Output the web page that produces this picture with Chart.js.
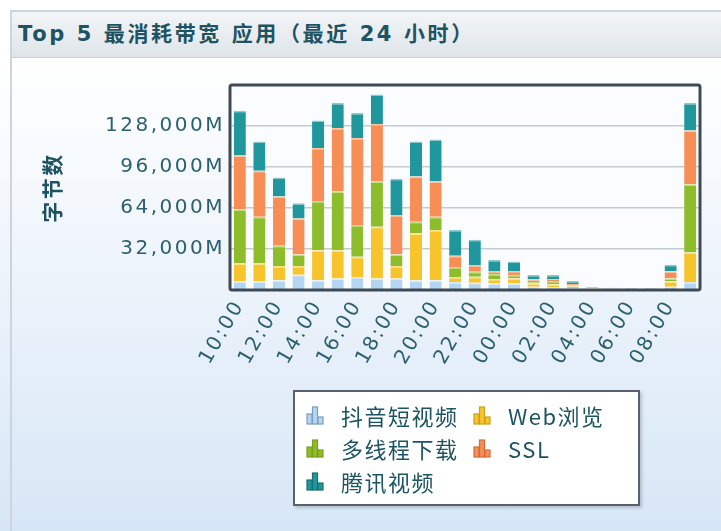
<!DOCTYPE html>
<html>
<head>
<meta charset="utf-8">
<script src="https://cdn.jsdelivr.net/npm/chart.js@4.4.1/dist/chart.umd.min.js"></script>
<style>
  html, body { margin: 0; padding: 0; }
  body {
    width: 721px; height: 531px; overflow: hidden; position: relative;
    background: linear-gradient(to bottom, #ffffff 0px, #ffffff 60px, #d7e6f6 531px);
    font-family: 'DejaVu Sans', 'Noto Sans CJK SC', sans-serif;
  }
  .panel {
    position: absolute; left: 10px; top: 10px; right: 0; bottom: 0;
    border-left: 2px solid #cdd5dc; border-top: 2px solid #cdd5dc;
  }
  .panel-head {
    position: absolute; left: 12px; top: 12px; right: 0; height: 45px;
    background: linear-gradient(to bottom, #f3f5f7, #dfe5ea);
    border-bottom: 1px solid #c9d1d8;
    color: #1e5363; font-weight: bold; font-size: 21px; letter-spacing: 2.6px;
    line-height: 45px; padding-left: 6px;
    font-family: 'DejaVu Sans', 'Noto Sans CJK SC', sans-serif;
  }
  #chartBox { position: absolute; left: 10px; top: 58px; }
  .legend {
    position: absolute; left: 293px; top: 390px; width: 347px; height: 116px;
    background: #fff; border: 2px solid #57626c;
    box-shadow: 2px 2px 3px rgba(0,0,0,0.18);
    display: grid; grid-template-columns: 167px 170px; grid-auto-rows: 33px;
    padding-top: 6px; box-sizing: border-box; padding-left: 11px;
  }
  .legend .item { display: flex; align-items: center; font-size: 22px; color: #1d5464;
    font-family: 'Noto Sans CJK SC', 'DejaVu Sans', sans-serif; letter-spacing: 1.5px; }
  .legend svg { margin-right: 16px; flex: none; }
</style>
</head>
<body>
<div class="panel"></div>
<div class="panel-head">Top 5 最消耗带宽 应用（最近 24 小时）</div>
<div id="chartBox"><canvas id="bwChart" width="711" height="330"></canvas></div>
<div class="legend" id="legend"></div>

<script>
// ── DATA ──
const hours = ['10:00','11:00','12:00','13:00','14:00','15:00','16:00','17:00','18:00','19:00','20:00','21:00',
               '22:00','23:00','00:00','01:00','02:00','03:00','04:00','05:00','06:00','07:00','08:00','09:00'];

const seriesNames = ['抖音短视频', 'Web浏览', '多线程下载', 'SSL', '腾讯视频'];

// bytes, in M
const douyin   = [6800, 6800, 7600, 12000, 7600, 8900, 10200, 8900, 8900, 7600, 7600, 6300,
                  5700, 5200, 5200, 2500, 2000, 1500, 600, 500, 300, 400, 2500, 6300];
const webBrowse = [13800, 13800, 11200, 6800, 23500, 22200, 15700, 40500, 9900, 36500, 39200, 3900,
                  4700, 3400, 4000, 2500, 2500, 1500, 500, 400, 300, 300, 4300, 22900];
const multiDl  = [42400, 36600, 15700, 8900, 38400, 45700, 24800, 35300, 8900, 9200, 10400, 7800,
                  3900, 3900, 2600, 1200, 2500, 800, 300, 200, 100, 100, 2100, 53400];
const ssl      = [42000, 35800, 38500, 28200, 41300, 49700, 67900, 44900, 30900, 35300, 27500, 8700,
                  5300, 2400, 3100, 2000, 1500, 800, 300, 200, 100, 200, 5800, 41800];
const tencent  = [35000, 23000, 14800, 11800, 21500, 19500, 19600, 23000, 28200, 27400, 32700, 20100,
                  19600, 8600, 7300, 3600, 3300, 2400, 600, 500, 300, 400, 5100, 21600];

const yMax = 160000;
const yStep = 32000;

// ── COLOURS ──
const fills   = ['#b5d6f3', '#f8c42c', '#8dbd2a', '#f78e55', '#1f979d'];
const tops    = ['#dcebf9', '#fde08a', '#c4dd86', '#fbc4a3', '#8cc9cc'];
const iconCol = ['#7f9cbf', '#c9a11a', '#7c9e1b', '#d06c3a', '#1b6f73'];

const seriesData = [douyin, webBrowse, multiDl, ssl, tencent];

// plot background + dark frame, and the wide letter spacing of the original
const frame = {
    id: 'frame',
    beforeDraw(chart) {
        const { ctx, chartArea: a } = chart;
        ctx.save();
        ctx.fillStyle = '#fafcfe';
        ctx.fillRect(a.left, a.top, a.right - a.left, a.bottom - a.top);
        ctx.restore();
        ctx.letterSpacing = '2.5px';
    },
    afterDatasetsDraw(chart) {
        const { ctx, chartArea: a } = chart;
        ctx.save();
        ctx.strokeStyle = '#3e4a55';
        ctx.lineWidth = 3;
        ctx.beginPath();
        ctx.roundRect(a.left, a.top, a.right - a.left, a.bottom - a.top, 2);
        ctx.stroke();
        ctx.restore();
    }
};

const tickFont = { family: "'DejaVu Sans', sans-serif", size: 20 };

const chart = new Chart(document.getElementById('bwChart'), {
    type: 'bar',
    data: {
        labels: hours,
        datasets: seriesNames.map((name, i) => ({
            label: name,
            data: seriesData[i],
            backgroundColor: fills[i],
            borderColor: tops[i],
            borderWidth: { top: 1.5, left: 0, right: 0, bottom: 0 },
            borderSkipped: 'bottom',
            categoryPercentage: 1,
            barPercentage: 0.62
        }))
    },
    options: {
        responsive: false,
        animation: false,
        layout: { padding: { top: 27, right: 21, left: 0, bottom: 0 } },
        plugins: { legend: { display: false }, tooltip: { enabled: false } },
        scales: {
            x: {
                stacked: true,
                grid: { display: false, drawTicks: false },
                border: { display: false },
                ticks: {
                    autoSkip: false,
                    minRotation: 60, maxRotation: 60,
                    padding: 6,
                    color: '#2c6070',
                    font: tickFont,
                    callback: (v, i) => (i % 2 === 0 ? hours[i] : '')
                },
                afterFit: s => { s.height = 98; }
            },
            y: {
                stacked: true,
                min: 0, max: yMax,
                grid: {
                    drawTicks: false,
                    lineWidth: 1.5,
                    color: c => (c.tick.value === 0 || c.tick.value === yMax ? 'rgba(0,0,0,0)' : '#c3cbd3')
                },
                border: { display: false },
                ticks: {
                    stepSize: yStep,
                    padding: 5,
                    color: '#2c6070',
                    font: tickFont,
                    callback: v => (v === 0 || v === yMax ? '' : v.toLocaleString('en-US') + 'M')
                },
                title: {
                    display: true,
                    text: '字节数',
                    color: '#1d5262',
                    font: { family: "'Noto Sans CJK SC', sans-serif", size: 21, weight: 'bold' },
                    padding: { top: 29, bottom: 0 }
                },
                afterFit: s => { s.width = 220; }
            }
        }
    },
    plugins: [frame]
});

// ── LEGEND (row-wise, two columns) ──
const legendEl = document.getElementById('legend');
chart.data.datasets.forEach((ds, i) => {
    const c = iconCol[i];
    const item = document.createElement('div');
    item.className = 'item';
    item.innerHTML =
        `<svg width="19" height="20" viewBox="0 0 19 20">
           <rect x="1" y="9" width="5" height="10" fill="${fills[i]}" stroke="${c}" stroke-width="1.2"/>
           <rect x="6.5" y="2" width="5" height="17" fill="${fills[i]}" stroke="${c}" stroke-width="1.2"/>
           <rect x="12" y="12" width="5" height="7" fill="${fills[i]}" stroke="${c}" stroke-width="1.2"/>
         </svg><span>${ds.label}</span>`;
    legendEl.appendChild(item);
});
</script>
</body>
</html>
